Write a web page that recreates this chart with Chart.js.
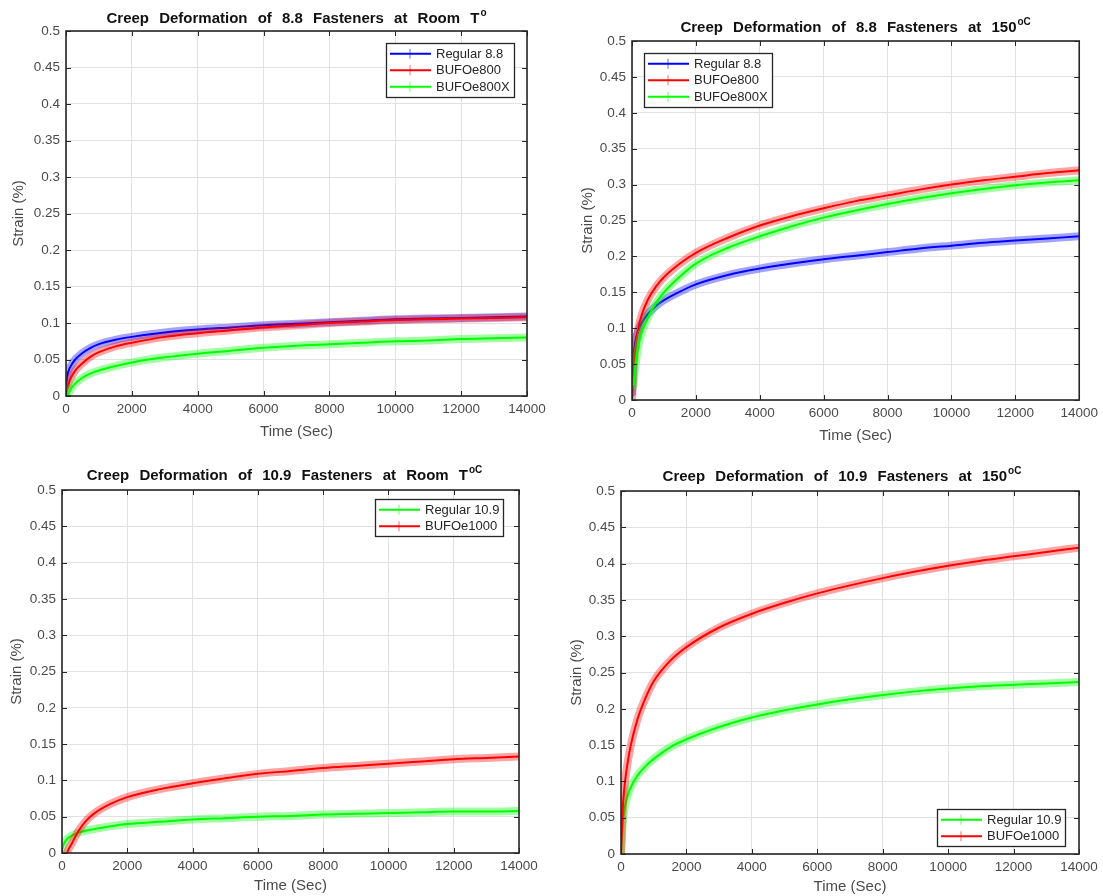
<!DOCTYPE html>
<html><head><meta charset="utf-8">
<script src="https://cdn.jsdelivr.net/npm/chart.js@4.4.1/dist/chart.umd.min.js"></script>
<style>
html,body{margin:0;padding:0;background:#fff;}
body{width:1103px;height:896px;position:relative;overflow:hidden;}
canvas{position:absolute;}
</style></head><body>
<canvas id="cTL" width="551" height="448" style="left:0;top:0;width:551px;height:448px"></canvas>
<canvas id="cTR" width="552" height="448" style="left:551px;top:0;width:552px;height:448px"></canvas>
<canvas id="cBL" width="551" height="448" style="left:0;top:448px;width:551px;height:448px"></canvas>
<canvas id="cBR" width="552" height="448" style="left:551px;top:448px;width:552px;height:448px"></canvas>
<script>
// ---------------- DATA ----------------
const xTicks = [0, 2000, 4000, 6000, 8000, 10000, 12000, 14000];
const yTicks = [0, 0.05, 0.1, 0.15, 0.2, 0.25, 0.3, 0.35, 0.4, 0.45, 0.5];

// 8.8 fasteners, room temperature
const timeRoom88 = [0,50,100,200,300,500,750,1000,1500,2000,3000,4000,5000,6000,7000,8000,9000,10000,11000,12000,13000,14000];
const regular88Room = [0.015,0.03,0.037,0.045,0.051,0.059,0.066,0.071,0.077,0.081,0.087,0.091,0.094,0.097,0.099,0.101,0.103,0.105,0.106,0.107,0.108,0.109];
const bufo800Room   = [0.003,0.012,0.02,0.029,0.036,0.045,0.054,0.06,0.068,0.073,0.081,0.086,0.09,0.094,0.097,0.1,0.102,0.104,0.105,0.106,0.107,0.108];
const bufo800XRoom  = [null,0,0.006,0.013,0.018,0.025,0.031,0.035,0.041,0.046,0.053,0.058,0.062,0.066,0.069,0.071,0.073,0.075,0.076,0.078,0.079,0.08];

// 8.8 fasteners, 150 C
const time15088 = [0,50,100,200,300,500,750,1000,1500,2000,3000,4000,5000,6000,7000,8000,9000,10000,11000,12000,13000,14000];
const regular88Hot = [0.01,0.06,0.08,0.097,0.107,0.12,0.131,0.139,0.151,0.161,0.174,0.183,0.19,0.196,0.201,0.206,0.211,0.215,0.219,0.222,0.225,0.228];
const bufo800Hot   = [0,0.04,0.07,0.1,0.118,0.14,0.158,0.171,0.19,0.205,0.226,0.243,0.256,0.267,0.277,0.285,0.293,0.3,0.306,0.311,0.316,0.32];
const bufo800XHot  = [null,0.02,0.045,0.075,0.093,0.115,0.135,0.15,0.172,0.19,0.212,0.228,0.242,0.254,0.264,0.273,0.281,0.288,0.294,0.299,0.303,0.306];

// 10.9 fasteners, room temperature
const timeRoom109 = [0,50,100,150,200,300,500,750,1000,1500,2000,3000,4000,5000,6000,7000,8000,9000,10000,11000,12000,13000,14000];
const regular109Room = [0.005,0.012,0.016,0.019,0.021,0.024,0.028,0.031,0.033,0.037,0.04,0.043,0.046,0.048,0.05,0.051,0.053,0.054,0.055,0.056,0.057,0.057,0.058];
const bufo1000Room   = [null,null,null,0,0.005,0.013,0.03,0.045,0.055,0.068,0.077,0.088,0.096,0.103,0.109,0.113,0.117,0.12,0.123,0.126,0.129,0.131,0.133];

// 10.9 fasteners, 150 C
const time150109 = [0,50,100,200,300,500,750,1000,1500,2000,3000,4000,5000,6000,7000,8000,9000,10000,11000,12000,13000,14000];
const regular109Hot = [0,0.04,0.06,0.08,0.092,0.108,0.121,0.131,0.147,0.158,0.175,0.188,0.198,0.206,0.213,0.219,0.224,0.228,0.231,0.233,0.235,0.237];
const bufo1000Hot   = [0,0.06,0.09,0.125,0.15,0.185,0.215,0.238,0.266,0.285,0.312,0.331,0.346,0.359,0.37,0.38,0.389,0.397,0.404,0.41,0.416,0.422];

// ---------------- STYLE ----------------
const FONT = '"Liberation Sans", Arial, Helvetica, sans-serif';
const BLUE = [0,0,255], RED = [255,0,0], GREEN = [0,255,0];
const col = (c,a) => `rgba(${c[0]},${c[1]},${c[2]},${a})`;

function makeSeries(defs, times){
  const n = defs.length, out = [];
  defs.forEach((d, i) => {
    const pts = times.map((t, k) => ({x: t, y: d.values[k]}));
    out.push({label: d.label, data: pts, isHalo: true, borderColor: col(d.color, 0.36), borderWidth: 8,
      pointRadius: 0, order: 2*(n-i), cubicInterpolationMode: 'monotone', borderCapStyle: 'round', borderJoinStyle: 'round'});
    out.push({label: d.label, data: pts, borderColor: col(d.color, 1), borderWidth: 2,
      pointRadius: 0, order: 2*(n-i)-1, cubicInterpolationMode: 'monotone'});
  });
  return out;
}

const framePlugin = {
  id: 'frame',
  afterDatasetsDraw(chart){
    const {ctx, chartArea: a, scales: {x, y}} = chart;
    ctx.save();
    ctx.strokeStyle = '#262626';
    ctx.lineWidth = 1;
    const L = 5;
    ctx.beginPath();
    x.ticks.forEach(t => {
      const p = Math.round(x.getPixelForValue(t.value)) + 0.5;
      ctx.moveTo(p, a.bottom); ctx.lineTo(p, a.bottom - L);
      ctx.moveTo(p, a.top); ctx.lineTo(p, a.top + L);
    });
    y.ticks.forEach(t => {
      const p = Math.round(y.getPixelForValue(t.value)) + 0.5;
      ctx.moveTo(a.left, p); ctx.lineTo(a.left + L, p);
      ctx.moveTo(a.right, p); ctx.lineTo(a.right - L, p);
    });
    ctx.stroke();
    ctx.lineWidth = 1.6;
    ctx.strokeRect(a.left, a.top, a.right - a.left, a.bottom - a.top);
    ctx.restore();
  }
};

const titlePlugin = {
  id: 'supTitle',
  afterDraw(chart, args, o){
    const {ctx, chartArea: a} = chart;
    ctx.save();
    const mainFont = 'bold 15px ' + FONT, supFont = 'bold 10px ' + FONT;
    ctx.font = mainFont;
    const words = o.text.split(' ');
    const ws = words.map(w => ctx.measureText(w).width);
    const sp = ctx.measureText(' ').width + o.extraSpace;
    const w1 = ws.reduce((s, v) => s + v, 0) + sp * (words.length - 1);
    ctx.font = supFont;
    const w2 = ctx.measureText(o.sup).width;
    const total = w1 + 1 + w2;
    let x0 = (a.left + a.right) / 2 - total / 2 + (o.shift || 0);
    const base = a.top - o.gap;
    ctx.fillStyle = '#111';
    ctx.textAlign = 'left';
    ctx.textBaseline = 'alphabetic';
    ctx.font = mainFont;
    words.forEach((w, i) => { ctx.fillText(w, x0, base); x0 += ws[i] + sp; });
    x0 = x0 - sp + 1;
    ctx.font = supFont;
    ctx.fillText(o.sup, x0, base - 7);
    ctx.restore();
  }
};

const legendPlugin = {
  id: 'boxLegend',
  afterDraw(chart, args, o){
    const {ctx, chartArea: a} = chart;
    const items = chart.data.datasets.filter(d => !d.isHalo);
    ctx.save();
    ctx.font = '13px ' + FONT;
    const tw = Math.max(...items.map(d => ctx.measureText(d.label).width));
    const padL = 3, lineLen = 42, gap = 5, padR = 4, rowH = 16.5, padY = 2;
    const w = Math.round(padL + lineLen + gap + tw + padR);
    const h = Math.round(items.length * rowH + 2 * padY);
    const bx = Math.round(o.corner.includes('e') ? a.right - o.dx - w : a.left + o.dx);
    const by = Math.round(o.corner.includes('n') ? a.top + o.dy : a.bottom - o.dy - h);
    ctx.fillStyle = '#fff';
    ctx.fillRect(bx, by, w, h);
    ctx.strokeStyle = '#262626';
    ctx.lineWidth = 1.3;
    ctx.strokeRect(bx + 0.5, by + 0.5, w, h);
    items.forEach((d, i) => {
      const cy = by + padY + rowH * (i + 0.5) + 0.5;
      ctx.strokeStyle = d.borderColor;
      ctx.lineWidth = 2;
      ctx.beginPath(); ctx.moveTo(bx + padL + 1, cy); ctx.lineTo(bx + padL + lineLen, cy); ctx.stroke();
      const mx = bx + padL + lineLen / 2;
      ctx.lineWidth = 1;
      ctx.strokeStyle = col(d._rgb, 0.6);
      ctx.beginPath(); ctx.moveTo(mx, cy - 5); ctx.lineTo(mx, cy + 5); ctx.stroke();
      ctx.fillStyle = '#262626';
      ctx.textBaseline = 'middle';
      ctx.textAlign = 'left';
      ctx.fillText(d.label, bx + padL + lineLen + gap, cy + 0.5);
    });
    ctx.restore();
  }
};

function build(id, L, title, sup, times, defs, legendOpts){
  const canvas = document.getElementById(id);
  const W = canvas.width, H = canvas.height;
  const datasets = makeSeries(defs, times);
  datasets.forEach(d => { if (!d.isHalo) d._rgb = defs.find(x => x.label === d.label).color; });
  new Chart(canvas, {
    type: 'line',
    data: {datasets},
    plugins: [framePlugin, titlePlugin, legendPlugin],
    options: {
      responsive: false,
      animation: false,
      devicePixelRatio: 1,
      layout: {padding: {left: 0, top: L.top, right: W - L.right, bottom: 0}},
      plugins: {
        legend: {display: false},
        tooltip: {enabled: false},
        title: {display: false},
        supTitle: {text: title, sup: sup, extraSpace: 6, gap: L.titleGap, shift: L.titleShift || 0},
        boxLegend: legendOpts
      },
      scales: {
        x: {
          type: 'linear', min: xTicks[0], max: xTicks[xTicks.length - 1],
          afterFit(s){ s.height = H - L.bottom; },
          afterBuildTicks(s){ s.ticks = xTicks.map(v => ({value: v})); },
          grid: {color: '#e2e2e2', lineWidth: 1, drawTicks: false},
          border: {display: false},
          ticks: {autoSkip: false, maxRotation: 0, padding: 5, color: '#4a4a4a',
                  font: {family: FONT, size: 13.5}, callback: v => String(v)},
          title: {display: true, text: 'Time (Sec)', color: '#4a4a4a', font: {family: FONT, size: 15},
                  padding: {top: 0, bottom: (H - L.bottom) - L.xTitle - 9}}
        },
        y: {
          type: 'linear', min: yTicks[0], max: yTicks[yTicks.length - 1],
          afterFit(s){ s.width = L.left; },
          afterBuildTicks(s){ s.ticks = yTicks.map(v => ({value: v})); },
          grid: {color: '#e2e2e2', lineWidth: 1, drawTicks: false},
          border: {display: false},
          ticks: {padding: 6, color: '#4a4a4a', font: {family: FONT, size: 13.5},
                  callback: v => String(Number(Number(v).toFixed(2)))},
          title: {display: true, text: 'Strain (%)', color: '#4a4a4a', font: {family: FONT, size: 15},
                  padding: {top: L.yTitle - 9, bottom: 0}}
        }
      }
    }
  });
}

build('cTL', {left: 66, top: 31, right: 527, bottom: 396, xTitle: 36, yTitle: 19, titleGap: 8},
  'Creep Deformation of 8.8 Fasteners at Room T', 'o', timeRoom88,
  [{label: 'Regular 8.8', values: regular88Room, color: BLUE},
   {label: 'BUFOe800', values: bufo800Room, color: RED},
   {label: 'BUFOe800X', values: bufo800XRoom, color: GREEN}],
  {corner: 'ne', dx: 13, dy: 12});

build('cTR', {left: 81, top: 41, right: 531, bottom: 400, xTitle: 36, yTitle: 37, titleGap: 9},
  'Creep Deformation of 8.8 Fasteners at 150', 'oC', time15088,
  [{label: 'Regular 8.8', values: regular88Hot, color: BLUE},
   {label: 'BUFOe800', values: bufo800Hot, color: RED},
   {label: 'BUFOe800X', values: bufo800XHot, color: GREEN}],
  {corner: 'nw', dx: 12, dy: 12});

build('cBL', {left: 62, top: 42, right: 519, bottom: 405, xTitle: 33, yTitle: 17, titleGap: 10, titleShift: -6},
  'Creep Deformation of 10.9 Fasteners at Room T', 'oC', timeRoom109,
  [{label: 'Regular 10.9', values: regular109Room, color: GREEN},
   {label: 'BUFOe1000', values: bufo1000Room, color: RED}],
  {corner: 'ne', dx: 16, dy: 9});

build('cBR', {left: 70, top: 43, right: 528, bottom: 406, xTitle: 33, yTitle: 26, titleGap: 10, titleShift: -8},
  'Creep Deformation of 10.9 Fasteners at 150', 'oC', time150109,
  [{label: 'Regular 10.9', values: regular109Hot, color: GREEN},
   {label: 'BUFOe1000', values: bufo1000Hot, color: RED}],
  {corner: 'se', dx: 14, dy: 8});
</script>
</body></html>
